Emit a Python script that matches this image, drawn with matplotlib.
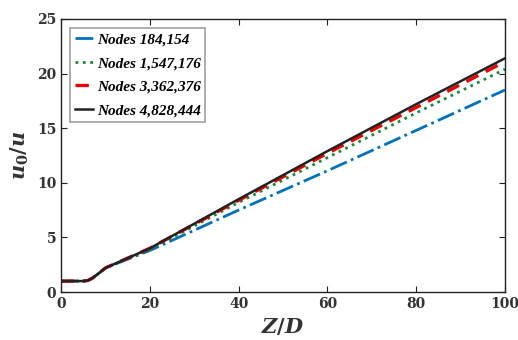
import numpy as np
import matplotlib
matplotlib.use("Agg")
from matplotlib import pyplot as plt

plt.rcParams['font.family'] = ['DejaVu Serif']
plt.rcParams['mathtext.fontset'] = 'custom'
plt.rcParams['mathtext.it'] = 'DejaVu Serif:italic:bold'
plt.rcParams['mathtext.rm'] = 'DejaVu Serif:bold'

z = [0, 5, 6, 7, 8, 10, 20, 40, 60, 80, 100]
n184 = [1, 1, 1.05, 1.25, 1.55, 2.2, 3.8, 7.5, 11.1, 14.8, 18.5]
n1547 = [1, 1, 1.05, 1.25, 1.55, 2.2, 3.9, 8.2, 12.3, 16.4, 20.4]
n3362 = [1, 1, 1.05, 1.25, 1.55, 2.2, 4.0, 8.4, 12.7, 16.9, 21.1]
n4828 = [1, 1, 1.05, 1.25, 1.55, 2.2, 4.0, 8.5, 12.9, 17.2, 21.4]
labels = ["Nodes 184,154", "Nodes 1,547,176", "Nodes 3,362,376", "Nodes 4,828,444"]

fig = plt.figure(figsize=(5.18, 3.40), dpi=100)
ax = fig.add_axes([61/518, 48/340, 444/518, 273/340])

ax.plot(z, n184, color='#0072BD', ls='-.', lw=2, label=labels[0])
ax.plot(z, n1547, color='#1a8a3a', ls=':', lw=2, label=labels[1])
ax.plot(z, n3362, color='#ee0000', ls=(0, (4, 2.5)), lw=2.4, label=labels[2])
ax.plot(z, n4828, color='#222222', ls='-', lw=1.8, label=labels[3])

ax.set_xlim(0, 100)
ax.set_ylim(0, 25)
ax.set_xticks([0, 20, 40, 60, 80, 100])
ax.set_yticks([0, 5, 10, 15, 20, 25])
ax.tick_params(direction='in', top=True, right=True, labelsize=10, width=0.8, length=4, colors='#222222')
for t in ax.get_xticklabels() + ax.get_yticklabels():
    t.set_fontweight('bold')
    t.set_color('#333333')
for s in ax.spines.values():
    s.set_color('#222222')
    s.set_linewidth(1)

ax.set_xlabel(r'$Z/D$', fontsize=15, color='#333333')
ax.set_ylabel(r'$u_0/u$', fontsize=15, color='#333333')

leg = ax.legend(loc='upper left', handlelength=1.2, handletextpad=0.25,
                borderpad=0.3, labelspacing=0.65, fancybox=False, borderaxespad=0.6,
                prop={'family': 'Liberation Serif', 'style': 'italic', 'weight': 'bold', 'size': 11})
leg.get_frame().set_edgecolor('#888888')
leg.get_frame().set_linewidth(1.2)

fig.savefig("out.png", dpi=100)
